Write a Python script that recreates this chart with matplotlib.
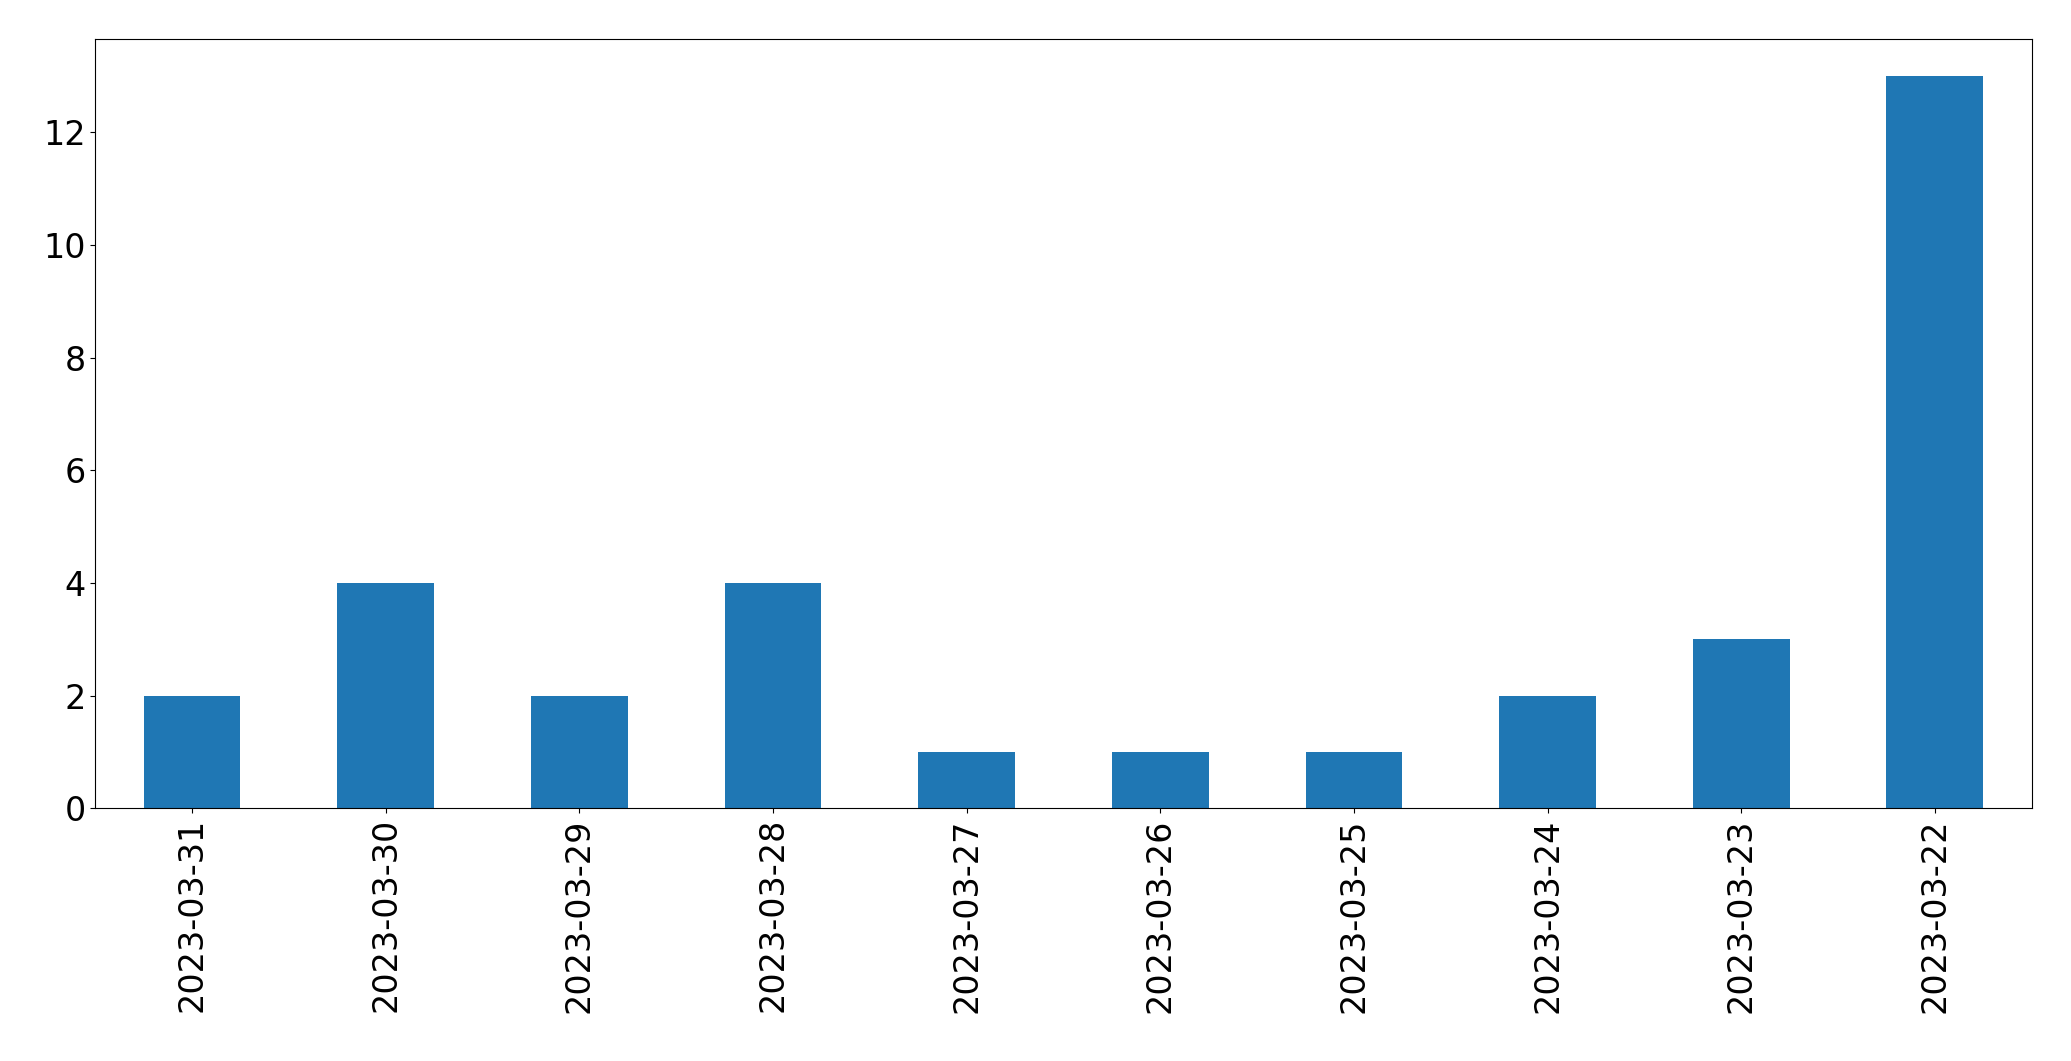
import matplotlib
matplotlib.use("Agg")
import matplotlib.pyplot as plt
import numpy as np

# data
dates = ["2023-03-31", "2023-03-30", "2023-03-29", "2023-03-28", "2023-03-27",
         "2023-03-26", "2023-03-25", "2023-03-24", "2023-03-23", "2023-03-22"]
counts = [2, 4, 2, 4, 1, 1, 1, 2, 3, 13]

fig = plt.figure(figsize=(20.71, 10.61), dpi=100)
ax = fig.add_axes([0.046, 0.238, 0.935, 0.725])

x = np.arange(len(dates))
ax.bar(x, counts, width=0.5, color="#1f77b4")
ax.set_xlim(-0.5, len(dates) - 0.5)
ax.set_ylim(0, 13.65)
ax.set_xticks(x)
ax.set_xticklabels(dates, rotation=90)
ax.tick_params(labelsize=24)

fig.savefig("out.png", dpi=100)
